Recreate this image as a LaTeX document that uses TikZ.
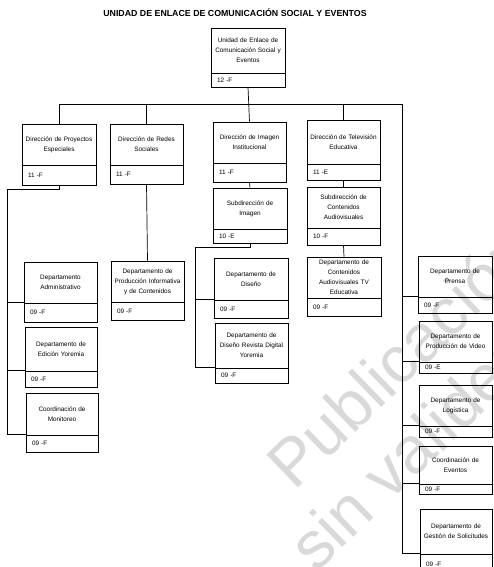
\documentclass[tikz,border=0pt]{standalone}
\usepackage{fontspec}
\setmainfont{Liberation Sans}
\tikzset{
  namebox/.style={draw=black, line width=0.7pt, inner sep=0pt, align=center,
    font=\fontsize{6.4}{10}\selectfont},
  codebox/.style={draw=black, line width=0.7pt, inner sep=0pt, align=left,
    font=\fontsize{6.4}{10}\selectfont},
  conn/.style={draw=black, line width=0.7pt},
  wmark/.style={text=black!15, font=\fontsize{66}{70}\selectfont, align=left, inner sep=0pt}
}
\newcommand\obox[8]{%
  \pgfmathsetmacro\obw{#4-#2}%
  \pgfmathsetmacro\obtw{#4-#2-3}%
  \pgfmathsetmacro\obcw{#4-#2-12}%
  \pgfmathsetmacro\obh{#5-#3}%
  \pgfmathsetmacro\obch{#6-#5}%
  \node[namebox, minimum width=\obw pt, minimum height=\obh pt, text width=\obtw pt]
    (#1) at ({(#2+#4)/2},{(#3+#5)/2}) {#7};
  \node[codebox, minimum width=\obw pt, minimum height=\obch pt, text width=\obcw pt]
    (#1c) at ({(#2+#4)/2},{(#5+#6)/2}) {#8};
}
\begin{document}
\begin{tikzpicture}[x=1pt,y=-1pt]
\useasboundingbox (0,0) rectangle (493,567);
\clip (0,0) rectangle (493,567);
% watermark
\node[wmark, rotate=44, anchor=base west] (wm1) at (294,492) {Publicación};
\node[wmark, rotate=44, anchor=base west] (wm2) at (316,574) {sin validez};
% title
\node[font=\bfseries\fontsize{8.8}{10}\selectfont, inner sep=0pt] (title) at (235,13)
  {UNIDAD DE ENLACE DE COMUNICACIÓN SOCIAL Y EVENTOS};
% boxes
\obox{tc}{211}{28}{285}{73}{87}{Unidad de Enlace de\\Comunicación Social y\\Eventos}{12 -F}
\obox{d1}{22}{124}{96}{165}{185}{Dirección de Proyectos\\Especiales}{11 -F}
\obox{d2}{110}{124}{183}{165}{184}{Dirección de Redes\\Sociales}{11 -F}
\obox{d3}{213}{122}{286}{163}{182}{Dirección de Imagen\\Institucional}{11 -F}
\obox{d4}{307}{120}{380}{164}{180}{Dirección de Televisión\\Educativa}{11 -E}
\obox{l1}{24}{262}{97}{303}{322}{Departamento\\Administrativo}{09 -F}
\obox{l2}{25}{327}{97}{371}{387}{Departamento de\\Edición Yoremia}{09 -F}
\obox{l3}{26}{393}{98}{435}{452}{Coordinación de\\Monitoreo}{09 -F}
\obox{p1}{111}{261}{184}{302}{320}{Departamento de\\Producción Informativa\\y de Contenidos}{09 -F}
\obox{s1}{213}{188}{287}{229}{243}{Subdirección de\\Imagen}{10 -E}
\obox{i1}{214}{258}{288}{300}{318}{Departamento de\\Diseño}{09 -F}
\obox{i2}{215}{323}{288}{368}{383}{Departamento de\\Diseño Revista Digital\\Yoremia}{09 -F}
\obox{s2}{307}{187}{380}{228}{245}{Subdirección de\\Contenidos\\Audiovisuales}{10 -F}
\obox{tv}{307}{257}{381}{298}{316}{Departamento de\\Contenidos\\Audiovisuales TV\\Educativa}{09 -F}
\obox{r1}{418}{256}{492}{297}{313}{Departamento de\\Prensa}{09 -F}
\obox{r2}{419}{321}{492}{362}{373}{Departamento de\\Producción de Video}{09 -E}
\obox{r3}{419}{385}{492}{426}{437}{Departamento de\\Logística}{09 -F}
\obox{r4}{419}{446}{492}{484}{494}{Coordinación de\\Eventos}{09 -F}
\obox{r5}{420}{509}{492}{554}{575}{Departamento de\\Gestión de Solicitudes}{09 -F}
% coordinates
\coordinate (bar) at (249,104);
\coordinate (barR) at (402,104);
\coordinate (lcTop) at (7,189);
\coordinate (icTop) at (195,247);
% connectors
\draw[conn] (tcc.south) -- (d3.north);
\draw[conn] (d1.north) |- (barR) |- (r5c.north west);
\draw[conn] (d2.north) -- (d2.north |- bar);
\draw[conn] (d4.north) -- (d4.north |- bar);
\draw[conn] (d1c.south) |- (lcTop) |- (l3c.north west);
\draw[conn] (l1c.north west) -- (l1c.north west -| lcTop);
\draw[conn] (l2c.north west) -- (l2c.north west -| lcTop);
\draw[conn] (d2c.south) -- (p1.north);
\draw[conn] (d3c.south) -- (s1.north);
\draw[conn] (s1c.south) |- (icTop) |- (i2c.north west);
\draw[conn] (i1c.north west) -- (i1c.north west -| icTop);
\draw[conn] (d4c.south) -- (s2.north);
\draw[conn] (s2c.south) -- (tv.north);
\draw[conn] (r1c.north west) -- (r1c.north west -| barR);
\draw[conn] (r2c.north west) -- (r2c.north west -| barR);
\draw[conn] (r3c.north west) -- (r3c.north west -| barR);
\draw[conn] (r4c.north west) -- (r4c.north west -| barR);
\end{tikzpicture}
\end{document}
